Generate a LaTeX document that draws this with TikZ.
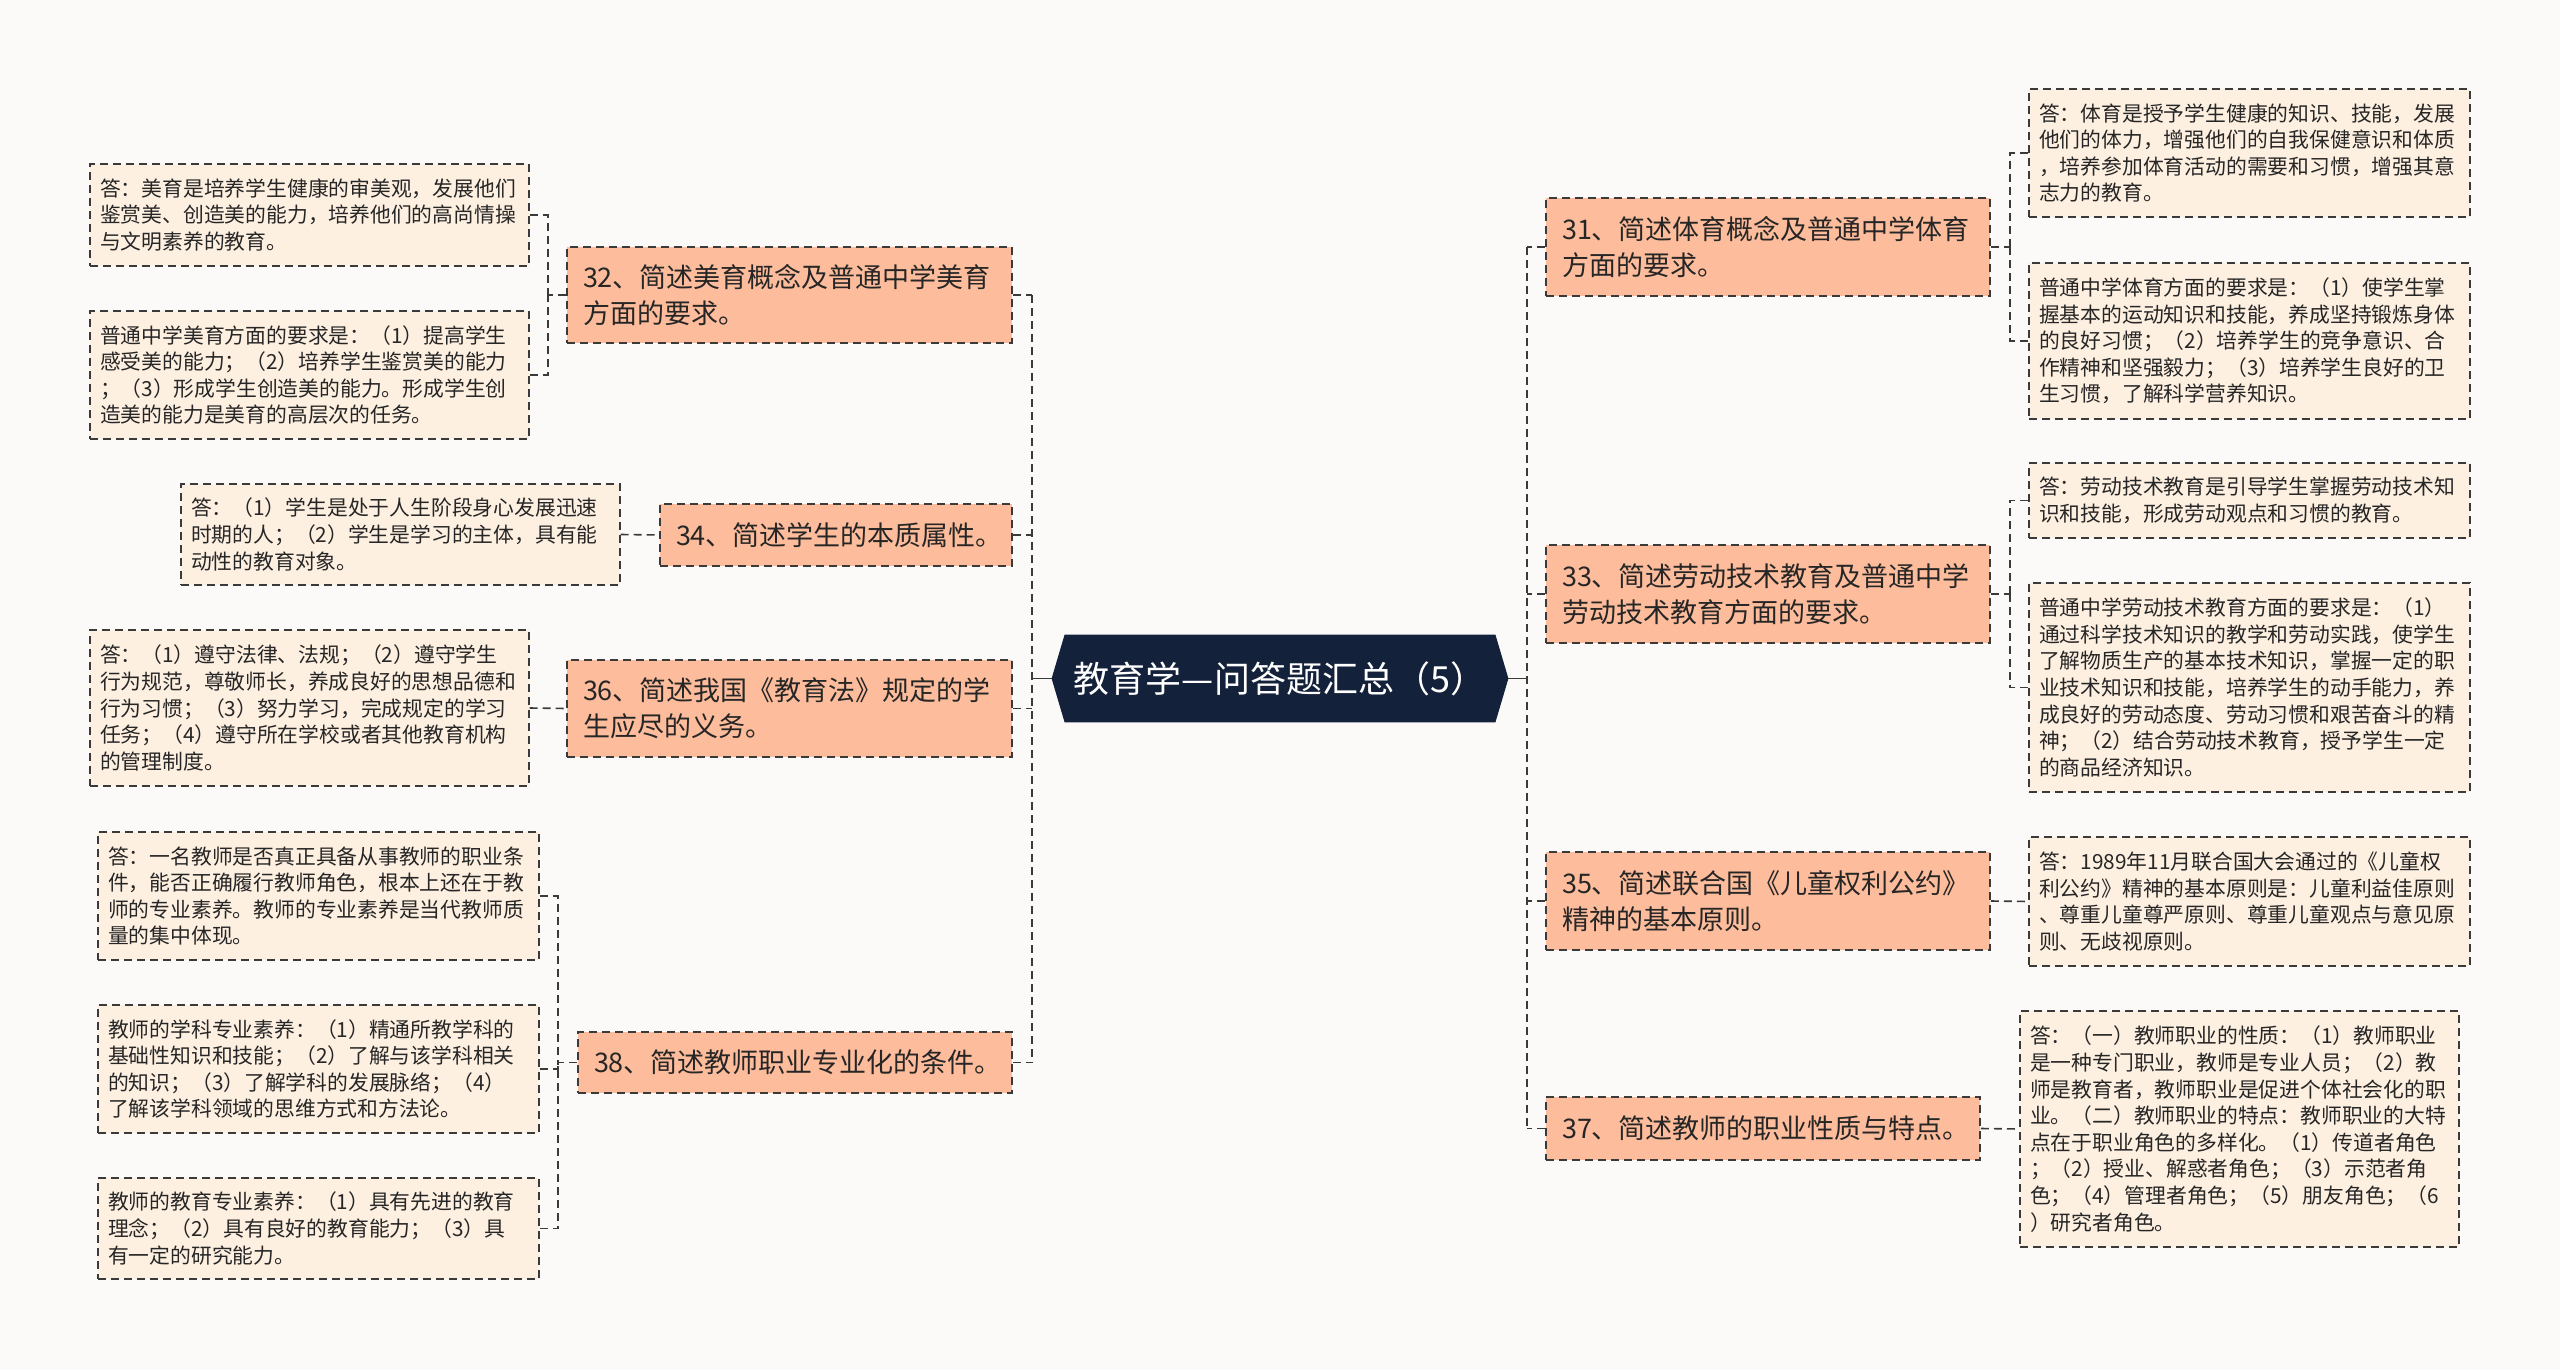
\documentclass[tikz,border=0pt]{standalone}
\usepackage{fontspec}
\setmainfont{Noto Sans CJK SC}
\definecolor{bgc}{HTML}{FCFAF8}
\definecolor{rootc}{HTML}{14213A}
\definecolor{topicc}{HTML}{FDBC9B}
\definecolor{leafc}{HTML}{FEF0E1}
\definecolor{linec}{HTML}{3A3A3A}
\definecolor{txtc}{HTML}{262626}
\pgfdeclarelayer{bottom}
\pgfdeclarelayer{background}
\pgfsetlayers{bottom,background,main}
\tikzset{
  dashln/.style={dash pattern=on 4pt off 2.5pt},
  topic/.style={draw=linec, line width=0.8pt, dashln, fill=topicc, inner xsep=8pt, inner ysep=0pt, align=left, text=txtc, font=\fontsize{13.5}{18}\selectfont},
  leaf/.style={draw=linec, line width=0.7pt, dashln, fill=leafc, inner xsep=5pt, inner ysep=0pt, align=left, text=txtc, font=\fontsize{10.4}{13.3}\selectfont},
  conn/.style={draw=linec, line width=0.8pt, dashln},
  solidconn/.style={draw=linec, line width=0.9pt},
  rootbox/.style={inner sep=0pt, minimum width=228pt, minimum height=43.5pt, text=white, font=\fontsize{18}{20}\selectfont},
}
\begin{document}
\begin{tikzpicture}[x=0.5pt,y=-0.5pt]
\begin{pgfonlayer}{bottom}
\fill[bgc] (0,0) rectangle (2560,1370);
\end{pgfonlayer}
\useasboundingbox (0,0) rectangle (2560,1370);

% root
\node[rootbox] (root) at (1280,678.5) {教育学—问答题汇总（5）};
\begin{pgfonlayer}{background}
\fill[rootc] (root.west) -- ([xshift=6.5pt]root.north west) -- ([xshift=-6.5pt]root.north east) -- (root.east) -- ([xshift=-6.5pt]root.south east) -- ([xshift=6.5pt]root.south west) -- cycle;
\end{pgfonlayer}

% left topics
\node[topic, text width=206.5pt, minimum height=48pt] (t32) at (789.5,295) {32、简述美育概念及普通中学美育\\方面的要求。};
\node[topic, text width=160pt, minimum height=31pt] (t34) at (836,535) {34、简述学生的本质属性。};
\node[topic, text width=206.5pt, minimum height=48.5pt] (t36) at (789.5,708.5) {36、简述我国《教育法》规定的学\\生应尽的义务。};
\node[topic, text width=201pt, minimum height=30.5pt] (t38) at (795,1062.5) {38、简述教师职业专业化的条件。};

% right topics
\node[topic, text width=206pt, minimum height=49pt] (t31) at (1768,247) {31、简述体育概念及普通中学体育\\方面的要求。};
\node[topic, text width=206pt, minimum height=49pt] (t33) at (1768,594) {33、简述劳动技术教育及普通中学\\劳动技术教育方面的要求。};
\node[topic, text width=206pt, minimum height=49pt] (t35) at (1768,901) {35、简述联合国《儿童权利公约》\\精神的基本原则。};
\node[topic, text width=201pt, minimum height=31.5pt] (t37) at (1763,1128.5) {37、简述教师的职业性质与特点。};

% left leaves
\node[leaf, text width=209.5pt, minimum height=51pt] (l32a) at (309.5,215) {答：美育是培养学生健康的审美观，发展他们\\鉴赏美、创造美的能力，培养他们的高尚情操\\与文明素养的教育。};
\node[leaf, text width=209.5pt, minimum height=64pt] (l32b) at (309.5,375) {普通中学美育方面的要求是：（1）提高学生\\感受美的能力；（2）培养学生鉴赏美的能力\\；（3）形成学生创造美的能力。形成学生创\\造美的能力是美育的高层次的任务。};
\node[leaf, text width=209.5pt, minimum height=50.5pt] (l34) at (400.5,534.5) {答：（1）学生是处于人生阶段身心发展迅速\\时期的人；（2）学生是学习的主体，具有能\\动性的教育对象。};
\node[leaf, text width=209.5pt, minimum height=78pt] (l36) at (309.5,708) {答：（1）遵守法律、法规；（2）遵守学生\\行为规范，尊敬师长，养成良好的思想品德和\\行为习惯；（3）努力学习，完成规定的学习\\任务；（4）遵守所在学校或者其他教育机构\\的管理制度。};
\node[leaf, text width=210.5pt, minimum height=64pt] (l38a) at (318.5,896) {答：一名教师是否真正具备从事教师的职业条\\件，能否正确履行教师角色，根本上还在于教\\师的专业素养。教师的专业素养是当代教师质\\量的集中体现。};
\node[leaf, text width=210.5pt, minimum height=64pt] (l38b) at (318.5,1069) {教师的学科专业素养：（1）精通所教学科的\\基础性知识和技能；（2）了解与该学科相关\\的知识；（3）了解学科的发展脉络；（4）\\了解该学科领域的思维方式和方法论。};
\node[leaf, text width=210.5pt, minimum height=50.5pt] (l38c) at (318.5,1228.5) {教师的教育专业素养：（1）具有先进的教育\\理念；（2）具有良好的教育能力；（3）具\\有一定的研究能力。};

% right leaves
\node[leaf, text width=210.5pt, minimum height=64pt] (r31a) at (2249.5,153) {答：体育是授予学生健康的知识、技能，发展\\他们的体力，增强他们的自我保健意识和体质\\，培养参加体育活动的需要和习惯，增强其意\\志力的教育。};
\node[leaf, text width=210.5pt, minimum height=78pt] (r31b) at (2249.5,341) {普通中学体育方面的要求是：（1）使学生掌\\握基本的运动知识和技能，养成坚持锻炼身体\\的良好习惯；（2）培养学生的竞争意识、合\\作精神和坚强毅力；（3）培养学生良好的卫\\生习惯，了解科学营养知识。};
\node[leaf, text width=210.5pt, minimum height=37.5pt] (r33a) at (2249.5,500.5) {答：劳动技术教育是引导学生掌握劳动技术知\\识和技能，形成劳动观点和习惯的教育。};
\node[leaf, text width=210.5pt, minimum height=104.5pt] (r33b) at (2249.5,687.5) {普通中学劳动技术教育方面的要求是：（1）\\通过科学技术知识的教学和劳动实践，使学生\\了解物质生产的基本技术知识，掌握一定的职\\业技术知识和技能，培养学生的动手能力，养\\成良好的劳动态度、劳动习惯和艰苦奋斗的精\\神；（2）结合劳动技术教育，授予学生一定\\的商品经济知识。};
\node[leaf, text width=210.5pt, minimum height=64.5pt] (r35) at (2249.5,901.5) {答：1989年11月联合国大会通过的《儿童权\\利公约》精神的基本原则是：儿童利益佳原则\\、尊重儿童尊严原则、尊重儿童观点与意见原\\则、无歧视原则。};
\node[leaf, text width=209.5pt, minimum height=118pt] (r37) at (2239.5,1129) {答：（一）教师职业的性质：（1）教师职业\\是一种专门职业，教师是专业人员；（2）教\\师是教育者，教师职业是促进个体社会化的职\\业。（二）教师职业的特点：教师职业的大特\\点在于职业角色的多样化。（1）传道者角色\\；（2）授业、解惑者角色；（3）示范者角\\色；（4）管理者角色；（5）朋友角色；（6\\）研究者角色。};

% trunks
\coordinate (tl) at (1032,678.5);
\coordinate (tr) at (1527,678.5);
\draw[solidconn] (root.west) -- (tl);
\draw[solidconn] (root.east) -- (tr);
\draw[conn] (t32.east -| tl) -- (t38.east -| tl);
\draw[conn] (t31.west -| tr) -- (t37.west -| tr);
\foreach \t in {t32,t34,t36,t38} \draw[conn] (\t.east) -- (\t.east -| tl);
\foreach \t in {t31,t33,t35,t37} \draw[conn] (\t.west) -- (\t.west -| tr);

% leaf connectors left
\coordinate (b32) at (548,295);
\draw[conn] (t32.west) -- (b32);
\draw[conn] (l32a.east) -| (b32);
\draw[conn] (l32b.east) -| (b32);
\draw[conn] (l34.east) -- (t34.west);
\draw[conn] (l36.east) -- (t36.west);
\coordinate (b38) at (558,1062.5);
\draw[conn] (t38.west) -- (b38);
\draw[conn] (l38a.east) -| (b38);
\draw[conn] (l38b.east) -| (b38);
\draw[conn] (l38c.east) -| (b38);

% leaf connectors right
\coordinate (b31) at (2010,247);
\draw[conn] (t31.east) -- (b31);
\draw[conn] (r31a.west) -| (b31);
\draw[conn] (r31b.west) -| (b31);
\coordinate (b33) at (2010,594);
\draw[conn] (t33.east) -- (b33);
\draw[conn] (r33a.west) -| (b33);
\draw[conn] (r33b.west) -| (b33);
\draw[conn] (t35.east) -- (r35.west);
\draw[conn] (t37.east) -- (r37.west);
\end{tikzpicture}
\end{document}
